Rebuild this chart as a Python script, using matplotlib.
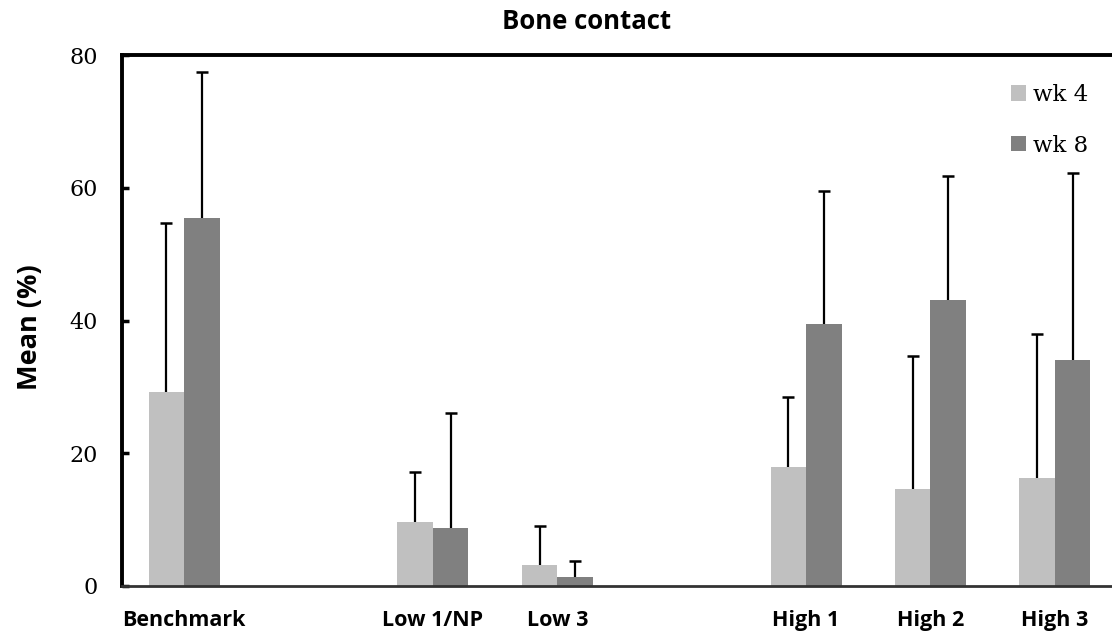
import numpy as np
import matplotlib.pyplot as plt

# data (mean % bone contact, upper error bar)
groups = ['Benchmark', '', 'Low 1/NP', 'Low 3', '', 'High 1', 'High 2', 'High 3']
wk4_mean = np.array([29.2, np.nan, 9.6, 3.1, np.nan, 17.9, 14.6, 16.3])
wk4_err = np.array([25.5, np.nan, 7.5, 5.9, np.nan, 10.5, 20.0, 21.7])
wk8_mean = np.array([55.4, np.nan, 8.8, 1.4, np.nan, 39.5, 43.1, 34.0])
wk8_err = np.array([22.1, np.nan, 17.2, 2.4, np.nan, 20.0, 18.6, 28.2])

W, H = 1112, 637
fig = plt.figure(figsize=(W / 100, H / 100), dpi=100)
ax = fig.add_axes([122 / W, 51 / H, 995 / W, 531 / H])

x = np.arange(len(groups))
w = 0.285
series = [(x - w / 2, wk4_mean, wk4_err, '#c0c0c0', 'wk 4'),
          (x + w / 2, wk8_mean, wk8_err, '#808080', 'wk 8')]
for xs, m, e, c, lab in series:
    ax.bar(xs, m, w, color=c, label=lab, zorder=2)
    # upper error only, cap on top
    ax.errorbar(xs, m, yerr=[np.zeros(len(xs)), e], fmt='none', ecolor='black',
                elinewidth=1.6, capsize=0, zorder=1)
    ax.plot(xs, m + e, ls='none', marker='_', ms=8.6, mew=1.8, color='black', zorder=1)

ax.set_xlim(-0.5, 7.5)
ax.set_ylim(0, 80)
ax.set_yticks([0, 20, 40, 60, 80])
ax.set_yticklabels(['0', '20', '40', '60', '80'], family='DejaVu Serif', fontsize=16)
ax.tick_params(axis='y', direction='in', length=5, width=2.5, pad=17.5)
ax.set_xticks(x)
ax.set_xticklabels(groups, family='Open Sans', fontweight='bold', fontsize=15.5)
ax.tick_params(axis='x', length=0, pad=17)

ax.spines['right'].set_visible(False)
ax.spines['left'].set_linewidth(2.8)
ax.spines['top'].set_linewidth(2.8)
ax.spines['bottom'].set_linewidth(2.0)
ax.spines['bottom'].set_color('#333333')

fig.text(30 / W, 1 - 327 / H, 'Mean (%)', family='Open Sans', fontweight='bold',
         fontsize=19.5, rotation=90, ha='center', va='center')
fig.text(587 / W, 1 - 29 / H, 'Bone contact', family='Open Sans',
         fontweight='bold', fontsize=18.5, ha='center', va='baseline')

ax.legend(loc='upper left', bbox_to_anchor=(1011 / W, 1 - 84 / H),
          bbox_transform=fig.transFigure, frameon=False, borderpad=0,
          borderaxespad=0, prop={'family': 'DejaVu Serif', 'size': 16.5},
          handlelength=0.66, handleheight=0.66, handletextpad=0.28, labelspacing=1.25)

plt.savefig('out.png', dpi=100)
